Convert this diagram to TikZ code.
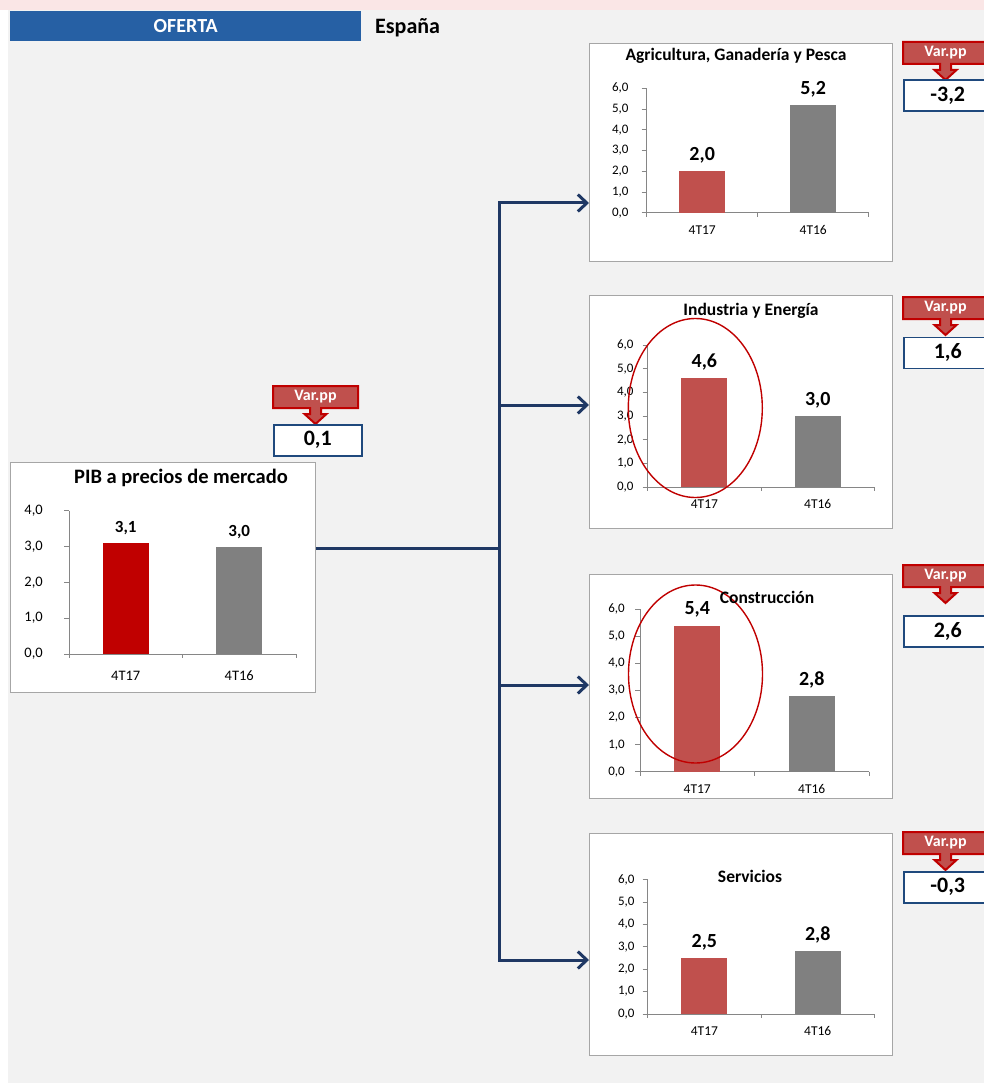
\documentclass[tikz,border=0pt]{standalone}
\usepackage{fontspec}
\setmainfont{Carlito}
\usetikzlibrary{arrows.meta}

\definecolor{hdrblue}{RGB}{38,96,164}
\definecolor{navy}{RGB}{31,56,100}
\definecolor{boxblue}{RGB}{31,73,125}
\definecolor{darkred}{RGB}{192,0,0}
\definecolor{softred}{RGB}{192,80,77}
\definecolor{bargray}{RGB}{128,128,128}
\definecolor{panelgray}{RGB}{242,242,242}
\definecolor{pinkband}{RGB}{250,230,230}
\definecolor{framegray}{RGB}{166,166,166}
\definecolor{axisgray}{RGB}{134,134,134}

\tikzset{
  panel/.style={draw=framegray, line width=1.2pt, fill=white, anchor=north west, inner sep=0pt},
  axisline/.style={draw=axisgray, line width=0.9pt},
  ticklab/.style={anchor=east, inner sep=0pt, font=\fontsize{13}{15}\selectfont},
  catlab/.style={inner sep=0pt, yshift=-17pt, font=\fontsize{13.5}{15}\selectfont},
  vallab/.style={inner sep=0pt, yshift=16pt, font=\bfseries\fontsize{20}{23}\selectfont},
  bigtick/.style={anchor=east, inner sep=0pt, font=\fontsize{14.5}{16}\selectfont},
  bigcat/.style={inner sep=0pt, yshift=-22pt, font=\fontsize{14.5}{16}\selectfont},
  bigval/.style={inner sep=0pt, yshift=15pt, font=\bfseries\fontsize{17}{19}\selectfont},
  ttl/.style={font=\bfseries\fontsize{17.5}{20}\selectfont},
  newbar/.style={fill=softred},
  oldbar/.style={fill=bargray},
  callout/.style={fill=softred, draw=darkred, line width=2pt, line join=miter},
  varlab/.style={text=white, inner sep=0pt, font=\bfseries\fontsize{16}{18}\selectfont},
  valbox/.style={draw=boxblue, line width=1.5pt, fill=white, anchor=north west, minimum width=88pt, minimum height=31pt, inner sep=0pt, font=\bfseries\fontsize{22}{25}\selectfont},
  link/.style={draw=navy, line width=3pt},
  ring/.style={draw=darkred, line width=1.4pt}
}

\newcommand{\dec}[1]{\pgfmathprintnumber[fixed,fixed zerofill,precision=1,use comma,assume math mode=true]{#1}}

% #1 prefix, #2 ymax, #3 axis length, #4 tick label gap, #5 4T17, #6 4T16
\newcommand{\barpanel}[6]{
  \draw[axisline] (0,#2) -- (0,0) -- (#3,0);
  \foreach \v in {0,...,#2}{
    \draw[axisline] (-5,\v) -- (0,\v);
    \node[ticklab] (#1-t\v) at (-#4,\v) {\v,0};
  }
  \foreach \u in {0,0.5,1}
    \draw[axisline] (\u*#3,0) -- ++(0pt,-4pt);
  \fill[newbar] (#3/4-23,0) rectangle (#3/4+23,#5);
  \fill[oldbar] (3*#3/4-23,0) rectangle (3*#3/4+23,#6);
  \node[vallab] (#1-v1) at (#3/4,#5) {\dec{#5}};
  \node[vallab] (#1-v2) at (3*#3/4,#6) {\dec{#6}};
  \node[catlab] (#1-c1) at (#3/4,0) {4T17};
  \node[catlab] (#1-c2) at (3*#3/4,0) {4T16};
}

% #1 name, #2 left x, #3 top y, #4 value box top, #5 value
\newcommand{\varbox}[5]{
  \draw[callout] (#2,#3) -- ++(85,0) -- ++(0,22) -- ++(-37,0) -- ++(0,6) -- ++(5.5,0)
    -- ++(-11,10) -- ++(-11,-10) -- ++(5.5,0) -- ++(0,-6) -- ++(-37,0) -- cycle;
  \node[varlab] (#1-lab) at (#2+42.5,#3+11) {Var.pp};
  \node[valbox] (#1-val) at (#2,#4) {#5};
}

\begin{document}
\begin{tikzpicture}[x=1pt, y=-1pt]
\useasboundingbox (0,0) rectangle (984,1083);
\fill[pinkband] (0,0) rectangle (984,10);
\fill[panelgray] (8,10) rectangle (984,1083);

\node[fill=hdrblue, text=white, anchor=north west, inner sep=0pt, minimum width=351pt, minimum height=30pt,
  font=\bfseries\fontsize{20}{23}\selectfont] (hdr) at (10,11) {OFERTA};
\node[anchor=west, inner sep=0pt, font=\bfseries\fontsize{22}{25}\selectfont] (pais) at (375,28) {España};

\node[panel, minimum width=305pt, minimum height=230pt] (pib) at (10,462) {};
\node[panel, minimum width=303pt, minimum height=218pt] (agr) at (589,43) {};
\node[panel, minimum width=303pt, minimum height=233pt] (ind) at (589,295) {};
\node[panel, minimum width=303pt, minimum height=224pt] (cons) at (589,574) {};
\node[panel, minimum width=303pt, minimum height=222pt] (serv) at (589,833) {};

\node[ttl, font=\bfseries\fontsize{20.5}{23}\selectfont] (pibT) at (181,478) {PIB a precios de mercado};
\node[ttl] (agrT) at (736,56) {Agricultura, Ganadería y Pesca};
\node[ttl] (indT) at (751,311) {Industria y Energía};
\node[ttl] (servT) at (750,876) {Servicios};

\begin{scope}[shift={(69,654)}, y=35.8pt, ticklab/.style={bigtick}, catlab/.style={bigcat},
  vallab/.style={bigval}, newbar/.style={fill=darkred}]
\barpanel{pib}{4}{227}{26}{3.1}{3.0}
\end{scope}
\begin{scope}[shift={(646.7,212.7)}, y=20.73pt]
\barpanel{agr}{6}{222}{18}{2.0}{5.2}
\end{scope}
\begin{scope}[shift={(647.7,487.3)}, y=23.7pt]
\barpanel{ind}{6}{226.7}{14}{4.6}{3.0}
\end{scope}
\begin{scope}[shift={(640,771.7)}, y=27.07pt]
\barpanel{cons}{6}{229}{15}{5.4}{2.8}
\end{scope}
\begin{scope}[shift={(647.7,1014)}, y=22.4pt]
\barpanel{serv}{6}{226.7}{13}{2.5}{2.8}
\end{scope}

\draw[ring] (695.3,408) ellipse [x radius=67, y radius=89.5];
\draw[ring] (695.5,674) ellipse [x radius=67, y radius=89];
\node[ttl] (consT) at (767,597) {Construcción};

\varbox{pibV}{273}{386}{424}{0,1}
\varbox{agrV}{903}{42}{79.5}{-3,2}
\varbox{indV}{903}{297}{336.5}{1,6}
\varbox{consV}{903}{565}{615}{2,6}
\varbox{servV}{903}{832}{871}{-0,3}

\coordinate (top) at (499,203);
\coordinate (mid) at (499,548);
\coordinate (j2) at (499,405);
\coordinate (j3) at (499,685);
\coordinate (bot) at (499,960);
\draw[link] (pib.east |- mid) -- (mid);
\draw[link, {Straight Barb[length=9pt,width=17pt]}-{Straight Barb[length=9pt,width=17pt]}]
  (top -| agr.west) -- (top) -- (bot) -- (bot -| serv.west);
\foreach \j/\b in {j2/ind, j3/cons}
  \draw[link, -{Straight Barb[length=9pt,width=17pt]}] (\j) -- (\j -| \b.west);
\end{tikzpicture}
\end{document}
